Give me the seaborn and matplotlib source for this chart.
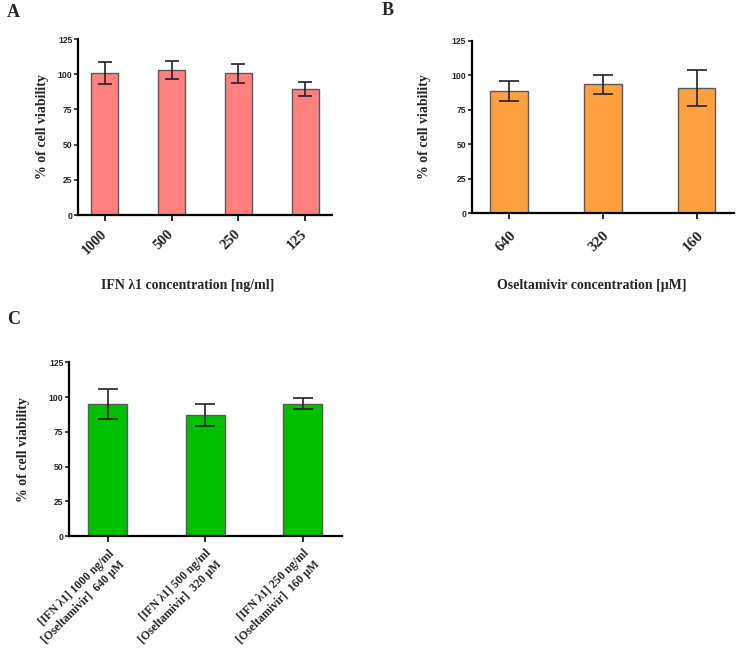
import matplotlib
matplotlib.use("Agg")
import matplotlib.pyplot as plt
import seaborn as sns

# panel A: IFN lambda1
ifn_conc = ["1000", "500", "250", "125"]
ifn_mean = [101.0, 103.2, 100.6, 89.8]
ifn_sd = [8.0, 6.3, 6.6, 5.0]

# panel B: oseltamivir
osel_conc = ["640", "320", "160"]
osel_mean = [88.8, 93.4, 90.5]
osel_sd = [7.2, 7.0, 13.0]

# panel C: combination
combo_labels = ["[IFN λ1] 1000 ng/ml\n[Oseltamivir]  640 µM",
                "[IFN λ1] 500 ng/ml\n[Oseltamivir]  320 µM",
                "[IFN λ1] 250 ng/ml\n[Oseltamivir]  160 µM"]
combo_mean = [94.9, 87.2, 95.3]
combo_sd = [10.6, 8.0, 3.7]

sns.set_style("ticks")
plt.rcParams['font.family'] = ['Liberation Serif', 'DejaVu Serif']
plt.rcParams['font.weight'] = 'bold'

fig = plt.figure(figsize=(7.4, 6.52), dpi=100)


def panel(rect, cats, means, sds, color, capsize, xlabel, ylab_x, xlab_pos,
          tick_fs, tick_va, tick_pad):
    ax = fig.add_axes(rect)
    sns.barplot(x=cats, y=means, color=color, saturation=1, width=0.4,
                edgecolor='#5a5a5a', linewidth=1.0, errorbar=None, ax=ax)
    ax.errorbar(range(len(cats)), means, yerr=sds, fmt='none', ecolor='#222222',
                elinewidth=1.2, capsize=capsize, capthick=1.2)
    ax.set_xlim(-0.4, len(cats) - 1 + 0.4)
    ax.set_ylim(0, 125)
    ax.set_yticks([0, 25, 50, 75, 100, 125])
    sns.despine(ax=ax)
    for s in ['left', 'bottom']:
        ax.spines[s].set_linewidth(1.6)
        ax.spines[s].set_color('black')
    ax.tick_params(axis='y', length=3, width=1.2, pad=1, labelsize=6.2)
    ax.tick_params(axis='x', length=4, width=1.4, pad=tick_pad, labelsize=tick_fs)
    for t in ax.get_yticklabels():
        t.set_family(['Liberation Sans', 'DejaVu Sans'])
        t.set_weight('bold')
    for t in ax.get_xticklabels():
        t.set_rotation(45)
        t.set_ha('right')
        t.set_va(tick_va)
        t.set_rotation_mode('anchor')
        t.set_weight('bold')
        t.set_linespacing(1.35)
    ax.set_ylabel('% of cell viability', fontsize=10, fontweight='bold')
    ax.yaxis.set_label_coords(ylab_x, 0.5)
    ax.yaxis.label.set_va('center')
    if xlabel:
        ax.set_xlabel(xlabel, fontsize=10, fontweight='bold')
        ax.xaxis.set_label_coords(*xlab_pos)
        ax.xaxis.label.set_va('center')
    return ax


panel([0.1054, 0.6702, 0.3432, 0.2699], ifn_conc, ifn_mean, ifn_sd, '#ff7f7f', 4.8,
      'IFN λ1 concentration [ng/ml]', -0.138, (0.43, -0.40), 10.5, 'center', 8)
panel([0.6374, 0.6728, 0.3545, 0.2647], osel_conc, osel_mean, osel_sd, '#ffa040', 7,
      'Oseltamivir concentration [µM]', -0.179, (0.458, -0.417), 11, 'top', 7)
panel([0.0932, 0.1775, 0.3685, 0.2669], combo_labels, combo_mean, combo_sd, '#00c000', 7.4,
      None, -0.168, None, 8.5, 'top', 4)

for letter, x, y in [('A', 7, 12.5), ('B', 382, 10.5), ('C', 7, 319.5)]:
    fig.text(x / 740, 1 - y / 652, letter, fontsize=13, fontweight='bold', va='center', ha='left')

fig.savefig('out.png', dpi=100)
